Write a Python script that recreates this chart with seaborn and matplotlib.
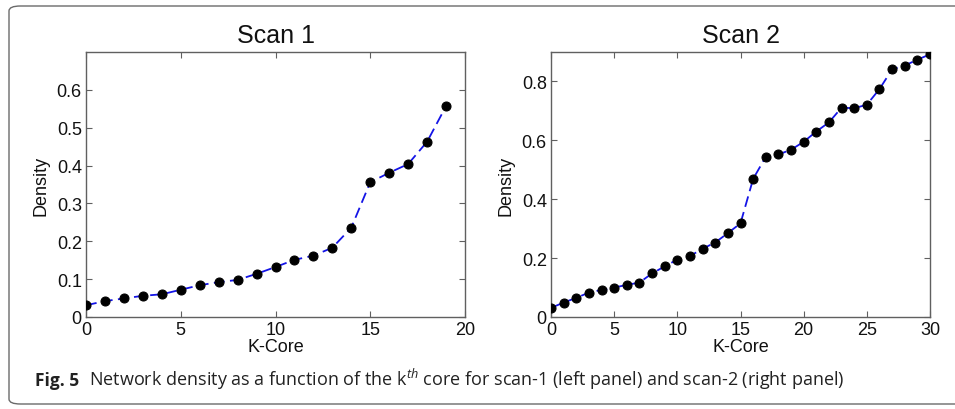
import numpy as np
import pandas as pd
import seaborn as sns
import matplotlib
matplotlib.use("Agg")
import matplotlib.pyplot as plt
from matplotlib.patches import FancyBboxPatch

# ---- data ----
k1 = list(range(20))
dens1 = [0.031, 0.042, 0.049, 0.056, 0.060, 0.072, 0.084, 0.092, 0.098, 0.114,
         0.132, 0.151, 0.162, 0.183, 0.236, 0.356, 0.381, 0.404, 0.463, 0.557]
k2 = list(range(31))
dens2 = [0.031, 0.049, 0.065, 0.083, 0.092, 0.100, 0.109, 0.117, 0.148, 0.172,
         0.195, 0.207, 0.232, 0.253, 0.285, 0.318, 0.469, 0.544, 0.552, 0.568,
         0.595, 0.630, 0.661, 0.711, 0.709, 0.721, 0.774, 0.841, 0.854, 0.874,
         0.892]
titles = ["Scan 1", "Scan 2"]
xlabel = "K-Core"
ylabel = "Density"
xticks1 = [0, 5, 10, 15, 20]
yticks1 = [0, 0.1, 0.2, 0.3, 0.4, 0.5, 0.6]
xticks2 = [0, 5, 10, 15, 20, 25, 30]
yticks2 = [0, 0.2, 0.4, 0.6, 0.8]
ytl1 = ["0", "0.1", "0.2", "0.3", "0.4", "0.5", "0.6"]
ytl2 = ["0", "0.2", "0.4", "0.6", "0.8"]
fig_label = "Fig. 5"
caption = "Network density as a function of the k$^{th}$ core for scan-1 (left panel) and scan-2 (right panel)"

sns.set_style("ticks")
plt.rcParams['font.family'] = ['Liberation Sans', 'DejaVu Sans']
plt.rcParams['mathtext.fontset'] = 'custom'
plt.rcParams['mathtext.it'] = 'Open Sans:italic'
plt.rcParams['mathtext.rm'] = 'Open Sans'
plt.rcParams['mathtext.bf'] = 'Open Sans:bold'

W, H = 955, 410
fig = plt.figure(figsize=(W / 100, H / 100), dpi=100)

def px_ax(x0, y0, x1, y1):
    return fig.add_axes([x0 / W, 1 - y1 / H, (x1 - x0) / W, (y1 - y0) / H])

ax1 = px_ax(86, 53, 465, 318)
ax2 = px_ax(551, 53, 930, 318)

df1 = pd.DataFrame({"k": k1, "d": dens1})
df2 = pd.DataFrame({"k": k2, "d": dens2})

spine_c = "#606060"
for ax, df, xt, yt, ytl, xl, yl, title in [
    (ax1, df1, xticks1, yticks1, ytl1, (0, 20), (0, 0.7), titles[0]),
    (ax2, df2, xticks2, yticks2, ytl2, (0, 30), (0, 0.9), titles[1]),
]:
    sns.lineplot(data=df, x="k", y="d", ax=ax, color="#1414e6", linestyle=(0, (6, 3)),
                 linewidth=1.3, marker="o", markersize=6.5, markerfacecolor="black",
                 markeredgecolor="black", zorder=3)
    ax.set_xlim(*xl)
    ax.set_ylim(*yl)
    ax.set_xticks(xt)
    ax.set_xticklabels([str(v) for v in xt])
    ax.set_yticks(yt)
    ax.set_yticklabels(ytl)
    ax.tick_params(direction="in", length=4, width=0.8, color=spine_c,
                   top=True, right=True, labelsize=13, pad=3, labelcolor="#111111")
    ax.tick_params(axis="x", pad=3)
    for s in ax.spines.values():
        s.set_visible(True)
        s.set_color(spine_c)
        s.set_linewidth(1.0)
    ax.set_xlabel(xlabel, fontsize=13, labelpad=0, color="#111111")
    ax.set_ylabel(ylabel, fontsize=13, labelpad=5, color="#111111")
    ax.set_title(title, fontsize=18, pad=7, color="#111111")

# frame
frame = FancyBboxPatch((9 / W, 1 - 405 / H), (W + 20 - 9) / W, (405 - 7) / H,
                       boxstyle="round,pad=0,rounding_size=0.012",
                       transform=fig.transFigure, fill=False,
                       edgecolor="#6a6a6a", linewidth=1.0, clip_on=False)
fig.patches.append(frame)

fig.text(35 / W, 1 - 386 / H, fig_label, fontsize=12.5, fontweight="bold",
         family="Open Sans", va="baseline", ha="left", color="#222222")
fig.text(89 / W, 1 - 386 / H, caption, fontsize=13,
         family="Open Sans", va="baseline", ha="left", color="#222222")

fig.savefig("out.png", dpi=100)
